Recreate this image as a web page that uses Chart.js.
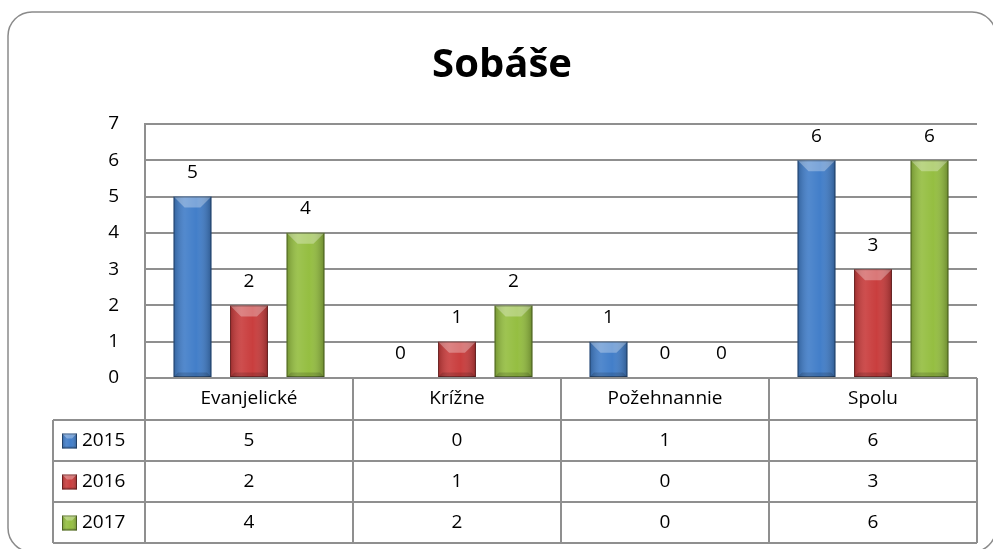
<!doctype html>
<html>

<head>
    <meta charset="utf-8">
    <title>Sobáše</title>
    <script src="https://cdn.jsdelivr.net/npm/chart.js@4/dist/chart.umd.min.js"></script>
    <style>
    html, body { margin: 0; padding: 0; background: #fff; }
    #wrap { width: 993px; height: 549px; }
    </style>
</head>

<body>
    <div id="wrap">
        <canvas id="myChart"></canvas>
    </div>
    <script>
    // Data
    var categories = ["Evanjelické", "Krížne", "Požehnannie", "Spolu"];
    var years = ["2015", "2016", "2017"];
    var values2015 = [5, 0, 1, 6];
    var values2016 = [2, 1, 0, 3];
    var values2017 = [4, 2, 0, 6];
    var yTicks = [0, 1, 2, 3, 4, 5, 6, 7];
    var chartTitle = "Sobáše";

    var FONT = "'Open Sans', sans-serif";
    var GRID = "#8f8f8f";
    var colors = ["#3f7cc8", "#c83a3a", "#93bd3e"];

    // rounded frame round the whole chart, title centred on it
    var framePlugin = {
        id: "frame",
        beforeDraw: function(chart) {
            var ctx = chart.ctx;
            var x = 8, y = 12, w = chart.width - 5, h = chart.height - 9, r = 24;
            ctx.save();
            ctx.fillStyle = "#fff";
            ctx.fillRect(0, 0, chart.width, chart.height);
            ctx.strokeStyle = "#8a8a8a";
            ctx.lineWidth = 1.5;
            ctx.beginPath();
            ctx.moveTo(x + r, y);
            ctx.lineTo(x + w - r, y);
            ctx.arcTo(x + w, y, x + w, y + r, r);
            ctx.lineTo(x + w, y + h - r);
            ctx.arcTo(x + w, y + h, x + w - r, y + h, r);
            ctx.lineTo(x + r, y + h);
            ctx.arcTo(x, y + h, x, y + h - r, r);
            ctx.lineTo(x, y + r);
            ctx.arcTo(x, y, x + r, y, r);
            ctx.stroke();

            ctx.fillStyle = "#000";
            ctx.font = "bold 40px " + FONT;
            ctx.textAlign = "center";
            ctx.textBaseline = "alphabetic";
            ctx.fillText(chartTitle, x + w / 2, 77);
            ctx.restore();
        }
    };

    function bevel(ctx, left, top, right, bottom) {
        var w = right - left, h = bottom - top;
        if (w <= 0 || h <= 0) return;
        var g = ctx.createLinearGradient(left, 0, right, 0);
        g.addColorStop(0, "rgba(0,0,0,0.22)");
        g.addColorStop(0.3, "rgba(255,255,255,0.10)");
        g.addColorStop(0.6, "rgba(255,255,255,0.02)");
        g.addColorStop(1, "rgba(0,0,0,0.28)");
        ctx.fillStyle = g;
        ctx.fillRect(left, top, w, h);
        var b = Math.min(11, w / 3, h / 2);
        ctx.fillStyle = "rgba(255,255,255,0.30)";
        ctx.beginPath();
        ctx.moveTo(left, top);
        ctx.lineTo(right, top);
        ctx.lineTo(right - b, top + b);
        ctx.lineTo(left + b, top + b);
        ctx.closePath();
        ctx.fill();
        ctx.fillStyle = "rgba(0,0,0,0.15)";
        ctx.beginPath();
        ctx.moveTo(left, bottom);
        ctx.lineTo(right, bottom);
        ctx.lineTo(right - b * 0.4, bottom - b * 0.4);
        ctx.lineTo(left + b * 0.4, bottom - b * 0.4);
        ctx.closePath();
        ctx.fill();
        ctx.strokeStyle = "rgba(0,0,0,0.35)";
        ctx.lineWidth = 1;
        ctx.strokeRect(left + 0.5, top + 0.5, w - 1, h - 1);
    }

    // bevel look + value labels on the bars
    var barPlugin = {
        id: "barLook",
        afterDatasetsDraw: function(chart) {
            var ctx = chart.ctx;
            ctx.save();
            chart.data.datasets.forEach(function(ds, i) {
                var meta = chart.getDatasetMeta(i);
                meta.data.forEach(function(bar, j) {
                    var p = bar.getProps(["x", "y", "width", "base"], true);
                    bevel(ctx, p.x - p.width / 2, p.y, p.x + p.width / 2, p.base);
                    ctx.fillStyle = "#000";
                    ctx.font = "19px " + FONT;
                    ctx.textAlign = "center";
                    ctx.textBaseline = "middle";
                    ctx.fillText(String(ds.data[j]), p.x, p.y - 24);
                });
            });
            ctx.restore();
        }
    };

    // data table under the plot, columns follow the x scale
    var tablePlugin = {
        id: "dataTable",
        afterDraw: function(chart) {
            var ctx = chart.ctx;
            var xs = chart.scales.x;
            var area = chart.chartArea;
            var n = categories.length;
            var colW = (area.right - area.left) / n;
            var headTop = area.bottom, headH = 42, rowH = 41;
            var legendLeft = 53;
            var tableBottom = headTop + headH + rowH * years.length;

            ctx.save();
            ctx.strokeStyle = GRID;
            ctx.lineWidth = 2;
            ctx.beginPath();
            // header row
            ctx.moveTo(area.left, headTop);
            ctx.lineTo(area.right, headTop);
            for (var r = 0; r <= years.length; r++) {
                var yy = headTop + headH + r * rowH;
                ctx.moveTo(legendLeft, yy);
                ctx.lineTo(area.right, yy);
            }
            ctx.moveTo(legendLeft, headTop + headH);
            ctx.lineTo(legendLeft, tableBottom);
            for (var c = 0; c <= n; c++) {
                var xx = (c < n ? xs.getPixelForValue(c) - colW / 2 : xs.getPixelForValue(n - 1) + colW / 2);
                ctx.moveTo(xx, headTop);
                ctx.lineTo(xx, tableBottom);
            }
            ctx.stroke();

            ctx.fillStyle = "#000";
            ctx.font = "19px " + FONT;
            ctx.textBaseline = "middle";
            ctx.textAlign = "center";
            categories.forEach(function(cat, i) {
                ctx.fillText(cat, xs.getPixelForValue(i), headTop + headH / 2);
            });
            chart.data.datasets.forEach(function(ds, r) {
                var cy = headTop + headH + r * rowH + rowH / 2;
                ds.data.forEach(function(v, i) {
                    ctx.fillStyle = "#000";
                    ctx.textAlign = "center";
                    ctx.fillText(String(v), xs.getPixelForValue(i), cy);
                });
                // legend key
                ctx.fillStyle = ds.backgroundColor;
                ctx.fillRect(legendLeft + 9, cy - 7, 15, 15);
                bevel(ctx, legendLeft + 9, cy - 7, legendLeft + 24, cy + 8);
                ctx.fillStyle = "#000";
                ctx.textAlign = "left";
                ctx.fillText(ds.label, legendLeft + 29, cy);
            });
            ctx.restore();
        }
    };

    function drawGraph() {
        var ctx = document.getElementById("myChart").getContext("2d");
        var chart = new Chart(ctx, {
            type: "bar",
            data: {
                labels: categories,
                datasets: [
                    { label: years[0], data: values2015, backgroundColor: colors[0] },
                    { label: years[1], data: values2016, backgroundColor: colors[1] },
                    { label: years[2], data: values2017, backgroundColor: colors[2] }
                ]
            },
            options: {
                responsive: true,
                maintainAspectRatio: false,
                animation: false,
                categoryPercentage: 0.815,
                barPercentage: 0.67,
                layout: { padding: { top: 124, right: 16, bottom: 171, left: 0 } },
                plugins: {
                    legend: { display: false },
                    tooltip: { enabled: false },
                    title: { display: false }
                },
                scales: {
                    x: { display: false },
                    y: {
                        min: 0,
                        max: yTicks[yTicks.length - 1],
                        afterBuildTicks: function(scale) {
                            scale.ticks = yTicks.map(function(v) { return { value: v }; });
                        },
                        afterFit: function(scale) { scale.width = 145; },
                        grid: { color: GRID, lineWidth: 2, drawTicks: false },
                        border: { color: GRID, width: 2 },
                        ticks: {
                            color: "#000",
                            padding: 26,
                            font: { family: FONT, size: 19 }
                        }
                    }
                }
            },
            plugins: [framePlugin, barPlugin, tablePlugin]
        });
    }

    window.onload = function() {
        drawGraph();
    };
    </script>
</body>

</html>
